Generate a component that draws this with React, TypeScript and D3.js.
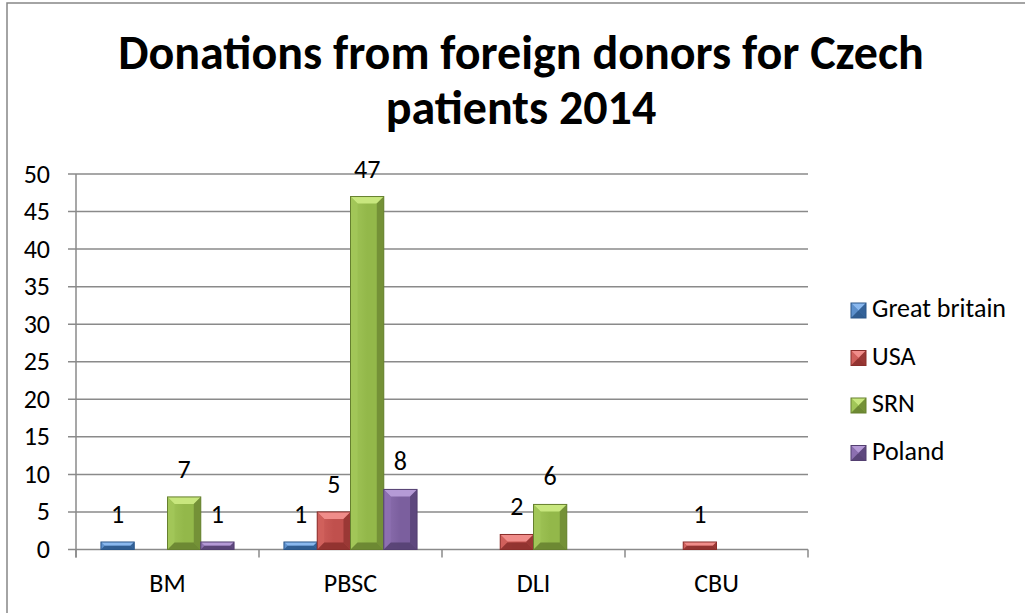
import React from "react";
import * as d3 from "d3";

const categories = ["BM", "PBSC", "DLI", "CBU"];
const seriesNames = ["Great britain", "USA", "SRN", "Poland"];
const greatBritain: (number | null)[] = [1, 1, null, null];
const usa: (number | null)[] = [null, 5, 2, 1];
const srn: (number | null)[] = [7, 47, 6, null];
const poland: (number | null)[] = [1, 8, null, null];
const yTicks = [0, 5, 10, 15, 20, 25, 30, 35, 40, 45, 50];
const titleLines = ["Donations from foreign donors for Czech", "patients 2014"];

const seriesValues = [greatBritain, usa, srn, poland];
const palette = [
  { base: "#4a7ebb", light: "#8ab8ee", mid: "#5d90cc", dark: "#2b578a" },
  { base: "#c0504d", light: "#f08d8a", mid: "#d0605c", dark: "#8a2e2b" },
  { base: "#93b84a", light: "#c8e77e", mid: "#a2c659", dark: "#66802f" },
  { base: "#7b5f9e", light: "#b59ad6", mid: "#8d70b0", dark: "#533f70" },
];

const FONT = "Carlito, Calibri, Lato, sans-serif";
const FS = 26;

function Bevel({ x, y, w, h, c, id }: { x: number; y: number; w: number; h: number; c: any; id: string }) {
  const b = Math.max(0, Math.min(7, h / 2, w / 2));
  return (
    <g>
      <rect x={x} y={y} width={w} height={h} fill={`url(#${id})`} />
      <polygon points={`${x},${y} ${x + w},${y} ${x + w - b},${y + b} ${x + b},${y + b}`} fill={c.light} />
      <polygon points={`${x},${y} ${x + b},${y + b} ${x + b},${y + h - b} ${x},${y + h}`} fill={c.mid} opacity={0.9} />
      <polygon points={`${x + w},${y} ${x + w},${y + h} ${x + w - b},${y + h - b} ${x + w - b},${y + b}`} fill={c.dark} opacity={0.7} />
      <polygon points={`${x},${y + h} ${x + b},${y + h - b} ${x + w - b},${y + h - b} ${x + w},${y + h}`} fill={c.dark} opacity={0.85} />
      <rect x={x} y={y} width={w} height={h} fill="none" stroke={c.dark} strokeWidth={1} />
    </g>
  );
}

export default function App() {
  const W = 1025, H = 613;
  const left = 76, right = 808, top = 174, bottom = 549.5;
  const x0 = d3.scaleBand<string>().domain(categories).range([left, right]).paddingInner(0).paddingOuter(0);
  const bw = x0.bandwidth() / (seriesNames.length + 1.5);
  const x1 = d3.scaleBand<string>().domain(seriesNames).range([bw * 0.75, bw * 0.75 + bw * seriesNames.length]);
  const y = d3.scaleLinear().domain([0, 50]).range([bottom, top]);
  const boundaries = categories.map((c) => x0(c)!).concat([right]);

  return (
    <svg width={W} height={H} style={{ position: "absolute", left: 0, top: 0, background: "#fff" }} fontFamily={FONT}>
      <defs>
        {palette.map((c, i) => (
          <linearGradient key={i} id={`g${i}`} x1="0" x2="1" y1="0" y2="0">
            <stop offset="0" stopColor={c.mid} />
            <stop offset="0.5" stopColor={c.base} />
            <stop offset="1" stopColor={c.base} />
          </linearGradient>
        ))}
      </defs>
      <rect x={0} y={0} width={W} height={H} fill="#fff" />
      <rect x={7} y={3} width={1040} height={640} fill="none" stroke="#868686" strokeWidth={1.5} />

      {titleLines.map((t, i) => (
        <text key={i} x={521} y={69 + i * 55} textAnchor="middle" fontWeight="bold" fontSize={48} fill="#000">
          {t}
        </text>
      ))}

      {yTicks.map((t) => (
        <line key={t} x1={left - 8} x2={right} y1={y(t)} y2={y(t)} stroke="#8a8a8a" strokeWidth={1.5} />
      ))}
      {yTicks.map((t) => (
        <text key={"l" + t} x={50} y={y(t) + 8.5} textAnchor="end" fontSize={FS} fill="#000">
          {t}
        </text>
      ))}
      <line x1={left} x2={left} y1={top} y2={bottom + 8} stroke="#8a8a8a" strokeWidth={1.5} />
      {boundaries.map((b, i) => (
        <line key={"xt" + i} x1={b} x2={b} y1={bottom} y2={bottom + 8} stroke="#8a8a8a" strokeWidth={1.5} />
      ))}

      {categories.map((cat, ci) =>
        seriesNames.map((s, si) => {
          const v = seriesValues[si][ci];
          if (v == null) return null;
          const bx = x0(cat)! + x1(s)!;
          const by = y(v);
          const bh = y(0) - y(v);
          return (
            <g key={cat + s}>
              <Bevel x={bx} y={by} w={bw} h={bh} c={palette[si]} id={`g${si}`} />
              <text x={bx + bw / 2} y={by - 19} textAnchor="middle" fontSize={FS} fill="#000">
                {v}
              </text>
            </g>
          );
        })
      )}

      {categories.map((cat) => (
        <text key={"c" + cat} x={x0(cat)! + x0.bandwidth() / 2} y={592} textAnchor="middle" fontSize={FS} fill="#000">
          {cat}
        </text>
      ))}

      {seriesNames.map((s, i) => {
        const by = 317 + i * 47.5;
        return (
          <g key={"lg" + s}>
            <Bevel x={851} y={by - 14} w={15} h={15} c={palette[i]} id={`g${i}`} />
            <text x={872} y={by} fontSize={FS} fill="#000">
              {s}
            </text>
          </g>
        );
      })}
    </svg>
  );
}
